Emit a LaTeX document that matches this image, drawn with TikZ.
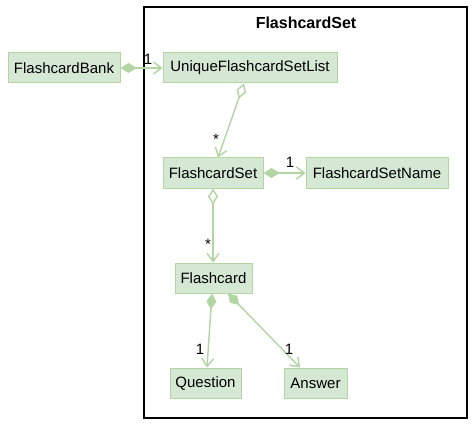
\documentclass[tikz,border=0pt]{standalone}
\usepackage{fontspec}
\setmainfont{Liberation Sans}
\usetikzlibrary{arrows.meta}
\definecolor{cfill}{HTML}{D5E8D4}
\definecolor{cline}{HTML}{B2D5A3}
\begin{document}
\begin{tikzpicture}[x=1pt,y=-1pt,
  cls/.style={draw=cline,fill=cfill,line width=1pt,minimum height=30pt,inner sep=0pt,font=\fontsize{15pt}{17pt}\selectfont},
  lbl/.style={font=\fontsize{15pt}{17pt}\selectfont,inner sep=0pt},
  rel/.style={draw=cline,line width=1.4pt},
  comp/.style={rel,{Diamond[length=16pt,width=10pt,fill=cline]}-{Straight Barb[length=8pt,width=12pt]}},
  aggr/.style={rel,{Diamond[length=16pt,width=10pt,open,fill=white]}-{Straight Barb[length=8pt,width=12pt]}}]
\useasboundingbox (0,0) rectangle (474,425);
\fill[white] (0,0) rectangle (474,425);
\draw[line width=1.5pt] (144,7) rectangle (467,418);
\node[font=\fontsize{16pt}{18pt}\selectfont\bfseries] (title) at (306,23) {FlashcardSet};
\node[cls,minimum width=112pt] (bank) at (64,68) {FlashcardBank};
\node[cls,minimum width=174pt] (ulist) at (250,68) {UniqueFlashcardSetList};
\node[cls,minimum width=100pt] (fset) at (213,173) {FlashcardSet};
\node[cls,minimum width=142pt] (fname) at (377,173) {FlashcardSetName};
\node[cls,minimum width=77pt] (card) at (213.5,278) {Flashcard};
\node[cls,minimum width=71pt] (q) at (205.5,383) {Question};
\node[cls,minimum width=63pt] (a) at (315.5,383) {Answer};
\draw[comp] (bank.east) -- (ulist.west);
\draw[aggr] ([xshift=-6pt]ulist.south) -- ([xshift=5pt]fset.north);
\draw[comp] (fset.east) -- (fname.west);
\draw[aggr] (fset.south) -- ([xshift=-0.5pt]card.north);
\draw[comp] ([xshift=-1.5pt]card.south) -- ([xshift=1.5pt]q.north);
\draw[comp] ([xshift=14.5pt]card.south) -- ([xshift=-15.5pt]a.north);
\node[lbl] (l1) at (148,59) {1};
\node[lbl] (l2) at (216,139) {*};
\node[lbl] (l3) at (290,162) {1};
\node[lbl] (l4) at (208,244) {*};
\node[lbl] (l5) at (200,349) {1};
\node[lbl] (l6) at (289,349) {1};
\end{tikzpicture}
\end{document}
